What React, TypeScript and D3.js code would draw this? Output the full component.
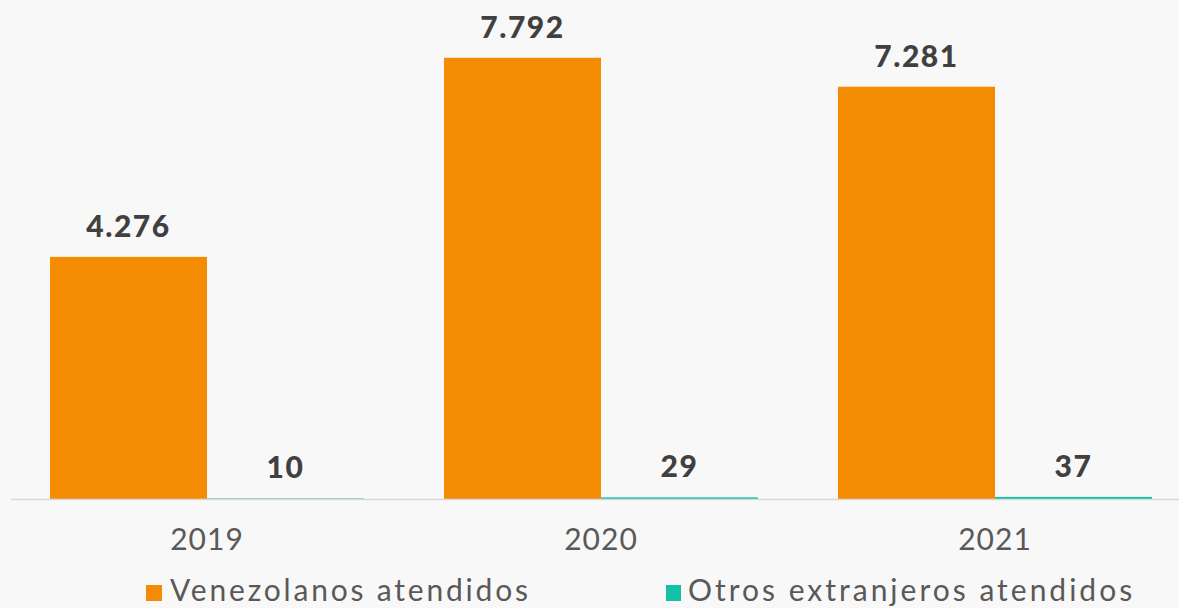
import React from "react";
import * as d3 from "d3";

const categories = ["2019", "2020", "2021"];
const seriesNames = ["Venezolanos atendidos", "Otros extranjeros atendidos"];
const venezolanos = [4276, 7792, 7281];
const otros = [10, 29, 37];
const colors = ["#f38b03", "#13c1a8"];

const W = 1179;
const H = 608;
const fmt = (v: number) => d3.format(",")(v).replace(/,/g, ".");

export default function App() {
  const x = d3.scaleBand<string>().domain(categories).range([10, 1192]).paddingInner(0.203).paddingOuter(0.1015);
  const inner = d3.scaleBand<number>().domain([0, 1]).range([0, x.bandwidth()]);
  const y = d3.scaleLinear().domain([0, 8000]).range([499, 46]);
  const series = [venezolanos, otros];
  const font = "Lato, 'Open Sans', sans-serif";
  return (
    <svg width={W} height={H} style={{ position: "absolute", left: 0, top: 0, background: "#f8f8f8" }} fontFamily={font}>
      <rect x={0} y={0} width={W} height={H} fill="#f8f8f8" />
      {series.map((vals, si) =>
        categories.map((c, ci) => {
          const bx = (x(c) as number) + (inner(si) as number);
          const v = vals[ci];
          return (
            <g key={`${si}-${ci}`}>
              <rect x={bx} y={y(v)} width={inner.bandwidth()} height={y(0) - y(v)} fill={colors[si]} />
              <text x={bx + inner.bandwidth() / 2} y={y(v) - 20} textAnchor="middle" fontSize={30} fontWeight={900} fill="#404040" letterSpacing={1.5}>
                {fmt(v)}
              </text>
            </g>
          );
        })
      )}
      <line x1={11} x2={W} y1={499.5} y2={499.5} stroke="#d9d9d9" strokeWidth={1.5} />
      {categories.map((c) => (
        <text key={c} x={(x(c) as number) + x.bandwidth() / 2} y={550} textAnchor="middle" fontSize={30} fill="#595959" letterSpacing={1}>
          {c}
        </text>
      ))}
      <rect x={146} y={585} width={16} height={16} fill={colors[0]} />
      <text x={170} y={601} fontSize={30} fill="#595959" letterSpacing={2.8}>{seriesNames[0]}</text>
      <rect x={666} y={585} width={15} height={16} fill={colors[1]} />
      <text x={688} y={601} fontSize={30} fill="#595959" letterSpacing={3.0}>{seriesNames[1]}</text>
    </svg>
  );
}
